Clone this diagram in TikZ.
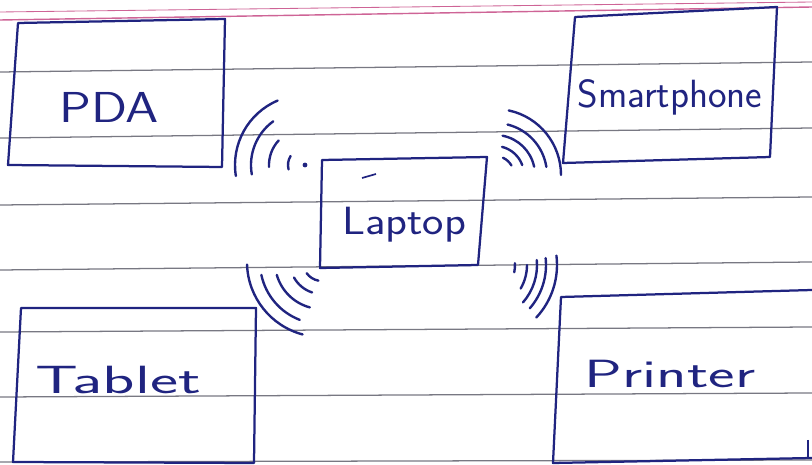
\documentclass[tikz,border=0pt]{standalone}
\usepackage{color}
\usepackage{graphicx}
\usepackage{tikz}
\definecolor{ink}{RGB}{32,36,128}
\definecolor{ruling}{RGB}{120,120,130}
\definecolor{margin}{RGB}{206,100,150}

\begin{document}
\begin{tikzpicture}[x=0.025cm, y=-0.025cm,
    box/.style={draw=ink, line width=1.6pt, line join=round},
    wave/.style={ink, line width=1.7pt, line cap=round},
    devlabel/.style={text=ink, font=\sffamily\fontsize{28}{28}\selectfont}]
    \useasboundingbox (0,0) rectangle (812,465);
    % Ruled paper
    \foreach \yl/\yr in {72/62, 138/128, 205/197, 270/262, 332/327, 397/393, 462/460}
        \draw[ruling, line width=0.9pt] (0,\yl) -- (812,\yr);
    \draw[margin, line width=0.6pt] (0,12) -- (812,2);
    \draw[margin, line width=1pt] (0,20) -- (812,7);
    % PDA
    \draw[box] (18,23) -- (225,19) -- (222,167) -- (8,165) -- cycle;
    \node[devlabel] (pda) at (109,107) {\scalebox{1.35}[1.1]{PDA}};
    % Smartphone
    \draw[box] (575,17) -- (777,7) -- (770,157) -- (563,163) -- cycle;
    \node[devlabel] (phone) at (670,97) {Smartphone};
    % Laptop
    \draw[box] (322,160) -- (487,157) -- (478,265) -- (320,268) -- cycle;
    \draw[ink, line width=1.2pt] (362,178) -- (376,174);
    \node[devlabel] (laptop) at (404,225) {\scalebox{1.15}[1]{Laptop}};
    % Tablet
    \draw[box] (21,308) -- (256,308) -- (254,463) -- (13,462) -- cycle;
    \node[devlabel] (tablet) at (118,380) {\scalebox{1.7}[1]{Tablet}};
    % Printer
    \draw[box] (812,290) -- (561,297) -- (553,463) -- (812,458);
    \draw[box] (808,440) -- (808,458);
    \node[devlabel] (printer) at (670,374) {\scalebox{1.6}[1]{Printer}};
    % Signal waves
    \coordinate (pdawave) at (305,165);
    \coordinate (phonewave) at (495,175);
    \coordinate (tabletwave) at (322,262);
    \coordinate (printerwave) at (480,265);
    \foreach \r/\a/\b in {70/171/247, 54/170/234, 36/177/223, 17/165/212}
        \draw[wave] ([shift={(\a:\r)}]pdawave) arc[start angle=\a, end angle=\b, radius=\r];
    \fill[ink] (pdawave) circle[radius=2.4];
    \foreach \r/\a/\b in {66/-78/0, 52/-76/-9, 40/-79/-12, 29/-76/-20, 19/-65/-30}
        \draw[wave] ([shift={(\a:\r)}]phonewave) arc[start angle=\a, end angle=\b, radius=\r];
    \foreach \r/\a/\b in {75/178/105, 62/168/111, 47/164/105, 32/151/108, 19/144/101}
        \draw[wave] ([shift={(\a:\r)}]tabletwave) arc[start angle=\a, end angle=\b, radius=\r];
    \foreach \r/\a/\b in {77/-7/43, 66/-6/41, 57/-5/41, 47/0/30, 35/-3/12}
        \draw[wave] ([shift={(\a:\r)}]printerwave) arc[start angle=\a, end angle=\b, radius=\r];
\end{tikzpicture}
\end{document}
